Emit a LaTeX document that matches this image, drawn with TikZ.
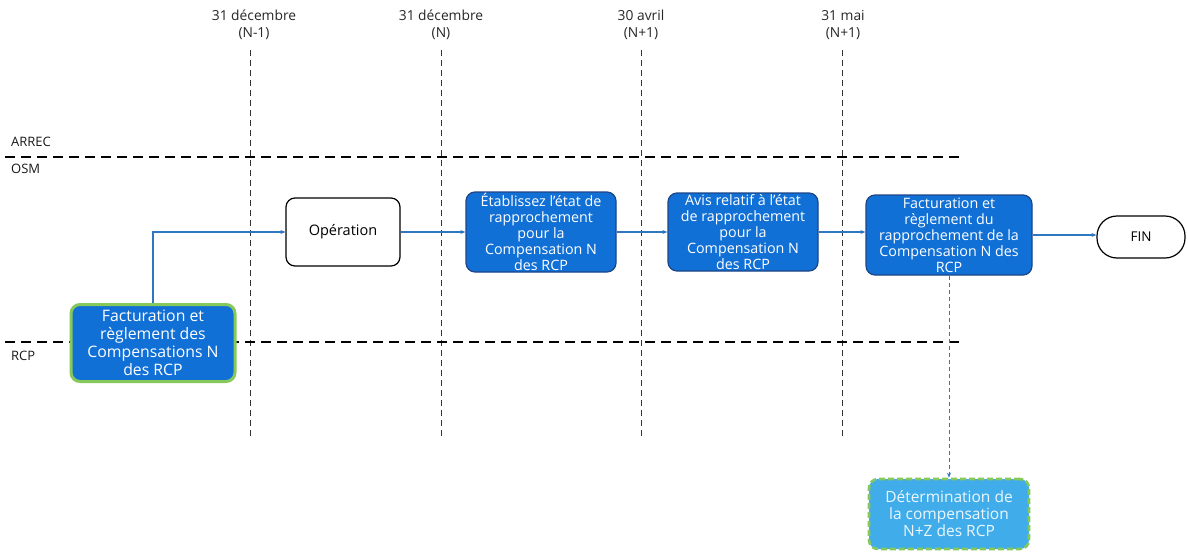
\documentclass[tikz,border=0pt]{standalone}
\usepackage{fontspec}
\setmainfont{Open Sans}
\usetikzlibrary{arrows.meta}
\definecolor{boxblue}{HTML}{1170D6}
\definecolor{boxedge}{HTML}{1D4585}
\definecolor{flowblue}{HTML}{2E78C2}
\definecolor{lightgreen}{HTML}{86C95A}
\definecolor{skyblue}{HTML}{40ADEA}
\begin{document}
\begin{tikzpicture}[x=1pt,y=-1pt,
  proc/.style={draw=boxedge, line width=1.2pt, fill=boxblue, rounded corners=9pt,
    text=white, align=center, inner sep=0pt, font=\fontsize{14.3}{16}\selectfont},
  whitebox/.style={draw=black, line width=1.2pt, fill=white, rounded corners=9pt,
    align=center, inner sep=0pt, font=\fontsize{14.5}{16}\selectfont},
  datelbl/.style={align=center, font=\fontsize{13.8}{16.5}\selectfont, inner sep=0pt, text=black!85},
  lanelbl/.style={anchor=base west, font=\fontsize{13}{15}\selectfont, inner sep=0pt, text=black!90},
  timeline/.style={draw=black!80, line width=0.8pt, dash pattern=on 6pt off 4pt},
  laneline/.style={draw=black, line width=2pt, dash pattern=on 10pt off 6pt},
  flow/.style={draw=flowblue, line width=1.2pt, -{Stealth[length=5pt,width=4pt]}},
  flowdash/.style={draw=flowblue, line width=0.9pt, dash pattern=on 4pt off 3pt, -{Stealth[length=5pt,width=4pt]}}
]
\useasboundingbox (0,0) rectangle (1188,552);

% date labels
\node[datelbl] (d1) at (254,25) {31 décembre\\(N-1)};
\node[datelbl] (d2) at (441,25) {31 décembre\\(N)};
\node[datelbl] (d3) at (641,25) {30 avril\\(N+1)};
\node[datelbl] (d4) at (843,25) {31 mai\\(N+1)};

% vertical time lines
\coordinate (t1a) at (250,50); \coordinate (t1b) at (250,437);
\coordinate (t2a) at (441,50); \coordinate (t2b) at (441,437);
\coordinate (t3a) at (641,50); \coordinate (t3b) at (641,437);
\coordinate (t4a) at (842,50); \coordinate (t4b) at (842,437);
\draw[timeline] (t1a) -- (t1b);
\draw[timeline] (t2a) -- (t2b);
\draw[timeline] (t3a) -- (t3b);
\draw[timeline] (t4a) -- (t4b);

% lane separators
\coordinate (l1a) at (5,157); \coordinate (l1b) at (962,157);
\coordinate (l2a) at (5,342); \coordinate (l2b) at (962,342);
\draw[laneline] (l1a) -- (l1b);
\draw[laneline] (l2a) -- (l2b);

\node[lanelbl] (arrec) at (11,146) {ARREC};
\node[lanelbl] (osm) at (11,173) {OSM};
\node[lanelbl] (rcp) at (11,360) {RCP};

% boxes
\node[proc, draw=lightgreen, line width=3pt, minimum width=164pt, minimum height=77pt,
  font=\fontsize{15.8}{18}\selectfont] (fact1) at (153,343)
  {Facturation et\\règlement des\\Compensations N\\des RCP};
\node[whitebox, minimum width=114pt, minimum height=68pt] (oper) at (343,232) {Opération};
\node[proc, minimum width=150pt, minimum height=80pt] (etab) at (541,232)
  {Établissez l'état de\\rapprochement\\pour la\\Compensation N\\des RCP};
\node[proc, minimum width=150pt, minimum height=78pt] (avis) at (743,232)
  {Avis relatif à l'état\\de rapprochement\\pour la\\Compensation N\\des RCP};
\node[proc, minimum width=166pt, minimum height=80pt] (fact2) at (949,235)
  {Facturation et\\règlement du\\rapprochement de la\\Compensation N des\\RCP};
\node[whitebox, rounded corners=20pt, minimum width=88pt, minimum height=42pt,
  font=\fontsize{13.5}{16}\selectfont] (fin) at (1141,237) {FIN};
\node[proc, draw=lightgreen, fill=skyblue, line width=2.6pt, dash pattern=on 6pt off 3pt,
  minimum width=160pt, minimum height=70pt, text=white!90!skyblue,
  font=\fontsize{15.5}{17}\selectfont] (determ) at (949,514)
  {Détermination de\\la compensation\\N+Z des RCP};

% connectors
\draw[flow] (fact1.north) |- (oper.west);
\draw[flow] (oper.east) -- (oper.east -| etab.west);
\draw[flow] (etab.east) -- (etab.east -| avis.west);
\draw[flow] (avis.east) -- (avis.east -| fact2.west);
\draw[flow] (fact2.east) -- (fact2.east -| fin.west);
\draw[flowdash] (fact2.south) -- (determ.north);
\end{tikzpicture}
\end{document}
